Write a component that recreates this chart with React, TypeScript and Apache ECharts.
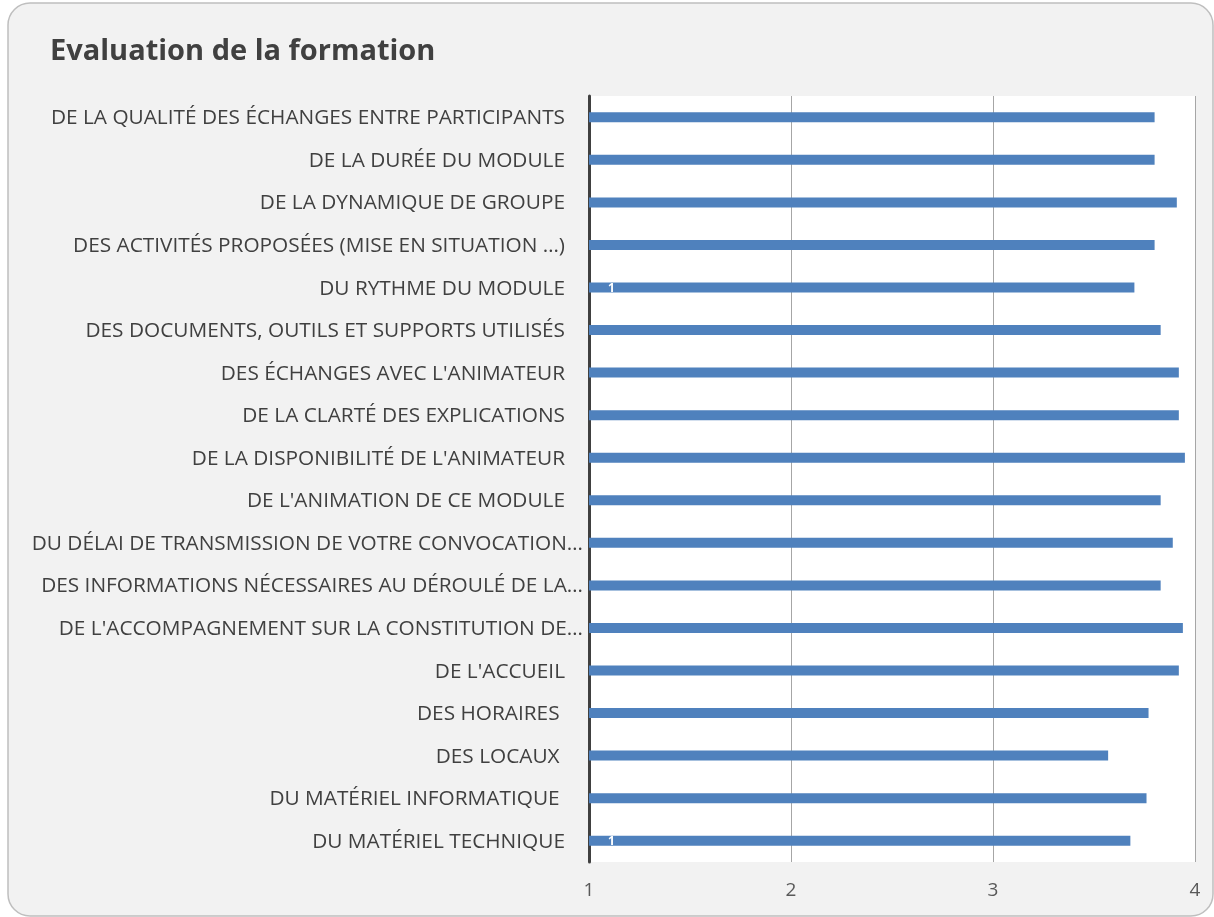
import React, { useEffect, useRef } from "react";
import * as echarts from "echarts";

const title = "Evaluation de la formation";

const categories: string[] = [
  "DE LA QUALITÉ DES ÉCHANGES ENTRE PARTICIPANTS",
  "DE LA DURÉE DU MODULE",
  "DE LA DYNAMIQUE DE GROUPE",
  "DES ACTIVITÉS PROPOSÉES (MISE EN SITUATION …)",
  "DU RYTHME DU MODULE",
  "DES DOCUMENTS, OUTILS ET SUPPORTS UTILISÉS",
  "DES ÉCHANGES AVEC L'ANIMATEUR",
  "DE LA CLARTÉ DES EXPLICATIONS",
  "DE LA DISPONIBILITÉ DE L'ANIMATEUR",
  "DE L'ANIMATION DE CE MODULE",
  "DU DÉLAI DE TRANSMISSION DE VOTRE CONVOCATION…",
  "DES INFORMATIONS NÉCESSAIRES AU DÉROULÉ DE LA…",
  "DE L'ACCOMPAGNEMENT SUR LA CONSTITUTION DE…",
  "DE L'ACCUEIL",
  "DES HORAIRES\u00a0",
  "DES LOCAUX\u00a0",
  "DU MATÉRIEL INFORMATIQUE\u00a0",
  "DU MATÉRIEL TECHNIQUE",
];

const values: number[] = [
  3.8, 3.8, 3.91, 3.8, 3.7, 3.83, 3.92, 3.92, 3.95,
  3.83, 3.89, 3.83, 3.94, 3.92, 3.77, 3.57, 3.76, 3.68,
];

// categories that show a stray "1" data label in the reference
const labelledOnes: number[] = [4, 17];

const xTicks = { min: 1, max: 4, interval: 1 };

export default function App() {
  const ref = useRef<HTMLDivElement>(null);
  useEffect(() => {
    if (!ref.current) return;
    const chart = echarts.init(ref.current, null, { renderer: "svg" });
    const font = "'Open Sans', 'Noto Sans', sans-serif";
    const fs = 20.8;
    chart.setOption({
      animation: false,
      graphic: [
        {
          type: "rect",
          z: -10,
          silent: true,
          shape: { x: 8, y: 3, width: 1205, height: 913, r: 22 },
          style: { fill: "#f2f2f2", stroke: "#bfbfbf", lineWidth: 1.5 },
        },
      ],
      title: {
        text: title,
        left: 45,
        top: 29,
        textStyle: {
          fontFamily: font,
          fontSize: 29,
          fontWeight: "bold",
          color: "#404040",
        },
      },
      grid: {
        left: 589,
        right: 19,
        top: 96,
        bottom: 55,
        show: true,
        backgroundColor: "#ffffff",
        borderWidth: 0,
      },
      xAxis: {
        type: "value",
        min: xTicks.min,
        max: xTicks.max,
        interval: xTicks.interval,
        axisLine: { show: false },
        axisTick: { show: false },
        splitLine: { show: true, lineStyle: { color: "#a6a6a6", width: 1 } },
        axisLabel: {
          color: "#595959",
          fontFamily: font,
          fontSize: 19,
          margin: 17,
        },
      },
      yAxis: {
        type: "category",
        inverse: true,
        data: categories,
        axisLine: { show: true, lineStyle: { color: "#404040", width: 3 } },
        axisTick: { show: false },
        splitLine: { show: false },
        axisLabel: {
          color: "#404040",
          fontFamily: font,
          fontSize: fs,
          margin: 6,
          formatter: (v: string) =>
            v.endsWith("…") ? `{t|${v}}` : `{n|${v}}`,
          rich: {
            n: {
              color: "#404040",
              fontFamily: font,
              fontSize: fs,
              padding: [0, 18, 2, 0],
            },
            t: {
              color: "#404040",
              fontFamily: font,
              fontSize: fs,
              padding: [0, 0, 2, 0],
            },
          },
        },
      },
      series: [
        {
          type: "bar",
          barWidth: 10,
          itemStyle: { color: "#4f81bd" },
          data: values.map((v, i) =>
            labelledOnes.includes(i)
              ? {
                  value: v,
                  label: {
                    show: true,
                    formatter: "1",
                    position: "insideLeft",
                    offset: [14, 0],
                    color: "#ffffff",
                    fontSize: 12,
                    fontWeight: "bold",
                    fontFamily: font,
                  },
                }
              : v
          ),
        },
      ],
    });
    return () => chart.dispose();
  }, []);
  return (
    <div
      ref={ref}
      style={{ position: "fixed", left: 0, top: 0, width: 1214, height: 917 }}
    />
  );
}
